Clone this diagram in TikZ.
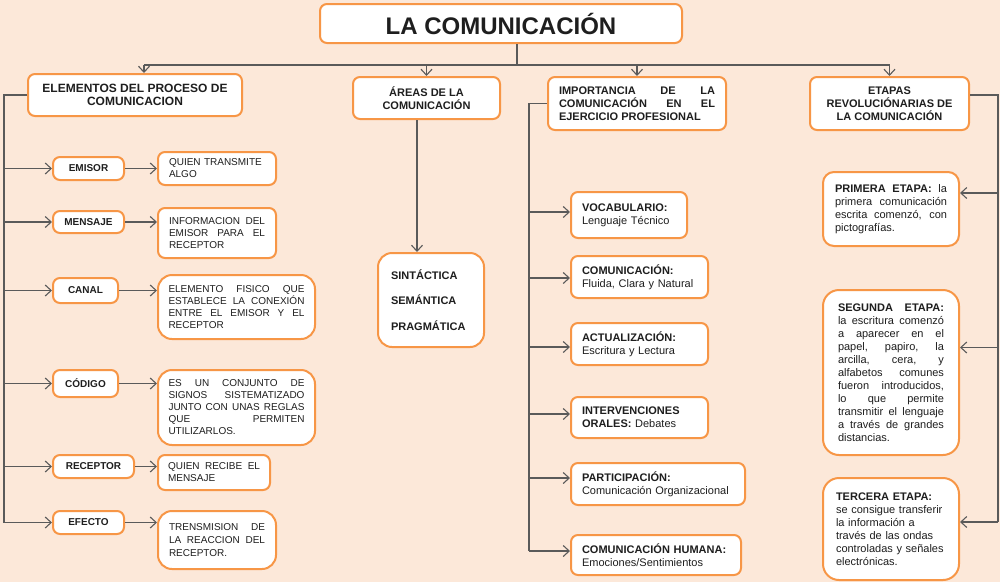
\documentclass[tikz,border=0pt]{standalone}
\usepackage{fontspec}
\setmainfont{Liberation Sans}
\usetikzlibrary{arrows.meta}
\definecolor{boxOrange}{HTML}{F79646}
\definecolor{bgPeach}{HTML}{FCE8D9}
\definecolor{lineGray}{HTML}{5A5A5A}
\definecolor{inkText}{HTML}{1E1E1E}
\hyphenpenalty=10000 \exhyphenpenalty=10000 \tolerance=10000

\begin{document}
\begin{tikzpicture}[x=1pt, y=-1pt, >={Straight Barb[length=6pt,width=11pt]},
    box/.style={draw=boxOrange, line width=2pt, fill=white, rounded corners=7pt,
        text=inkText, inner sep=0pt},
    big/.style={rounded corners=14pt},
    hdr/.style={box, font=\fontsize{11}{13}\selectfont\bfseries, align=center},
    lbl/.style={box, font=\fontsize{10}{12}\selectfont\bfseries},
    dsc/.style={box, font=\fontsize{10}{12}\selectfont, align=justify},
    itm/.style={box, font=\fontsize{11}{13}\selectfont, align=left},
    line/.style={draw=lineGray, line width=1.1pt},
    link/.style={line, ->}]

    \fill[bgPeach] (0,0) rectangle (1000,582);
    \useasboundingbox (0,0) rectangle (1000,582);

    % title and the four headers
    \node[box, font=\fontsize{24}{28}\selectfont\bfseries, minimum width=362pt,
        minimum height=39pt] (title) at (501,23.5) {LA COMUNICACIÓN};
    \node[hdr, font=\fontsize{12}{13}\selectfont\bfseries, minimum width=214pt,
        minimum height=42pt] (elem) at (135,95)
        {ELEMENTOS DEL PROCESO DE\\COMUNICACION};
    \node[hdr, minimum width=147pt, minimum height=42pt] (areas) at (426.5,98)
        {ÁREAS DE LA\\COMUNICACIÓN};
    \node[hdr, align=justify, text width=156pt, minimum width=178pt,
        minimum height=53pt] (imp) at (637,103.5)
        {IMPORTANCIA DE LA\linebreak COMUNICACIÓN EN EL\linebreak EJERCICIO PROFESIONAL};
    \node[hdr, minimum width=159pt, minimum height=53pt] (etapas) at (889.5,103.5)
        {ETAPAS\\REVOLUCIÓNARIAS DE\\LA COMUNICACIÓN};

    % elements of the process
    \node[lbl, minimum width=71pt, minimum height=23pt] (emisor) at (88.5,168.5) {EMISOR};
    \node[lbl, minimum width=71pt, minimum height=22pt] (mensaje) at (88.5,222) {MENSAJE};
    \node[lbl, minimum width=65pt, minimum height=25pt] (canal) at (85.5,290.5) {CANAL};
    \node[lbl, minimum width=65pt, minimum height=27pt] (codigo) at (85.5,383.5) {CÓDIGO};
    \node[lbl, minimum width=81pt, minimum height=23pt] (receptor) at (93.5,466.5) {RECEPTOR};
    \node[lbl, minimum width=71pt, minimum height=23pt] (efecto) at (88.5,522.5) {EFECTO};

    \node[dsc, align=left, text width=96pt, minimum width=118pt, minimum height=33pt]
        (emisorD) at (217,168.5) {QUIEN TRANSMITE\\ALGO};
    \node[dsc, text width=96pt, minimum width=118pt, minimum height=50pt]
        (mensajeD) at (217,233) {INFORMACION DEL\linebreak EMISOR PARA EL\linebreak RECEPTOR};
    \node[dsc, text width=136pt, minimum width=157pt, minimum height=64pt, big]
        (canalD) at (236.5,307) {ELEMENTO FISICO QUE\linebreak ESTABLECE LA CONEXIÓN\linebreak
        ENTRE EL EMISOR Y EL\linebreak RECEPTOR};
    \node[dsc, text width=136pt, minimum width=157pt, minimum height=75pt, big]
        (codigoD) at (236.5,407.5) {ES UN CONJUNTO DE\linebreak SIGNOS SISTEMATIZADO\linebreak
        JUNTO CON UNAS REGLAS\linebreak QUE PERMITEN\linebreak UTILIZARLOS.};
    \node[dsc, text width=92pt, minimum width=112pt, minimum height=35pt]
        (receptorD) at (214,472.5) {QUIEN RECIBE EL\linebreak MENSAJE};
    \node[dsc, font=\fontsize{10}{13}\selectfont, text width=96pt, minimum width=118pt,
        minimum height=58pt, big] (efectoD) at (217,540)
        {TRENSMISION DE\linebreak LA REACCION DEL\linebreak RECEPTOR.};

    % areas
    \node[itm, font=\fontsize{11}{13}\selectfont\bfseries, text width=80pt,
        minimum width=106pt, minimum height=94pt, big] (sint) at (431,300)
        {SINTÁCTICA\\[12.5pt]SEMÁNTICA\\[12.5pt]PRAGMÁTICA};

    % importance in professional practice
    \node[itm, text width=94pt, minimum width=116pt, minimum height=46pt] (vocab)
        at (629,215) {\textbf{VOCABULARIO:}\\Lenguaje Técnico};
    \node[itm, text width=115pt, minimum width=137pt, minimum height=42pt] (comu)
        at (639.5,277) {\textbf{COMUNICACIÓN:}\\Fluida, Clara y Natural};
    \node[itm, text width=115pt, minimum width=137pt, minimum height=42pt] (actual)
        at (639.5,344) {\textbf{ACTUALIZACIÓN:}\\Escritura y Lectura};
    \node[itm, text width=115pt, minimum width=137pt, minimum height=41pt] (interv)
        at (639.5,417.5) {\textbf{INTERVENCIONES}\\\textbf{ORALES:} Debates};
    \node[itm, text width=152pt, minimum width=174pt, minimum height=42pt] (partic)
        at (658,484) {\textbf{PARTICIPACIÓN:}\\Comunicación Organizacional};
    \node[itm, text width=148pt, minimum width=170pt, minimum height=40pt] (humana)
        at (656,555) {\textbf{COMUNICACIÓN HUMANA:}\\Emociones/Sentimientos};

    % revolutionary stages
    \node[itm, align=justify, text width=112pt, minimum width=136pt, minimum height=74pt,
        rounded corners=11pt] (prim) at (891,209)
        {\textbf{PRIMERA ETAPA:} la\linebreak primera comunicación\linebreak
        escrita comenzó, con\linebreak pictografías.};
    \node[itm, align=justify, text width=106pt, minimum width=136pt, minimum height=165pt,
        rounded corners=16pt] (seg) at (891,372.5)
        {\textbf{SEGUNDA ETAPA:}\linebreak la escritura comenzó\linebreak a aparecer en el\linebreak
        papel, papiro, la\linebreak arcilla, cera, y\linebreak alfabetos comunes\linebreak
        fueron introducidos,\linebreak lo que permite\linebreak transmitir el lenguaje\linebreak
        a través de grandes\linebreak distancias.};
    \node[itm, text width=110pt, minimum width=136pt, minimum height=102pt,
        rounded corners=16pt] (ter) at (891,529)
        {\textbf{TERCERA ETAPA:}\\se consigue transferir\\la información a\\través de las ondas\\
        controladas y señales\\electrónicas.};

    % connectors from the title
    \coordinate (titleOut) at ([xshift=16pt]title.south);
    \coordinate (elemTop) at ([xshift=9pt]elem.north);
    \draw[line] (titleOut) -- ++(0,21) coordinate (hub);
    \draw[line] (elemTop |- hub) -- (etapas.north |- hub);
    \draw[link] (elemTop |- hub) -- (elemTop);
    \foreach \n in {areas,imp,etapas}
        \draw[link] (\n.north |- hub) -- (\n.north);

    % left trunk
    \coordinate (lt) at (4,0);
    \draw[line] (elem.west) -| (lt |- efecto);
    \foreach \n in {emisor,mensaje,canal,codigo,receptor,efecto} {
        \draw[link] (lt |- \n) -- (\n.west);
        \draw[link] (\n.east) -- (\n.east -| \n D.west);
    }

    % areas
    \coordinate (areasOut) at ([xshift=-9.5pt]areas.south);
    \draw[link] (areasOut) -- (areasOut |- sint.north);

    % importance trunk
    \coordinate (it) at (529,0);
    \foreach \n/\dy in {vocab/3,comu/-1,actual/-3,interv/3.5,partic/6,humana/4} {
        \coordinate (tip\n) at ([yshift=\dy pt]\n.west);
        \draw[link] (it |- tip\n) -- (tip\n);
    }
    \draw[line] (imp.west) -| (it |- tiphumana);

    % right trunk
    \coordinate (et) at (998,0);
    \coordinate (etOut) at ([yshift=8.5pt]etapas.east);
    \foreach \n/\dy in {prim/16,seg/25,ter/7} {
        \coordinate (tip\n) at ([yshift=\dy pt]\n.east);
        \draw[link] (et |- tip\n) -- (tip\n);
    }
    \draw[line] (etOut) -| (et |- tipter);

\end{tikzpicture}
\end{document}
